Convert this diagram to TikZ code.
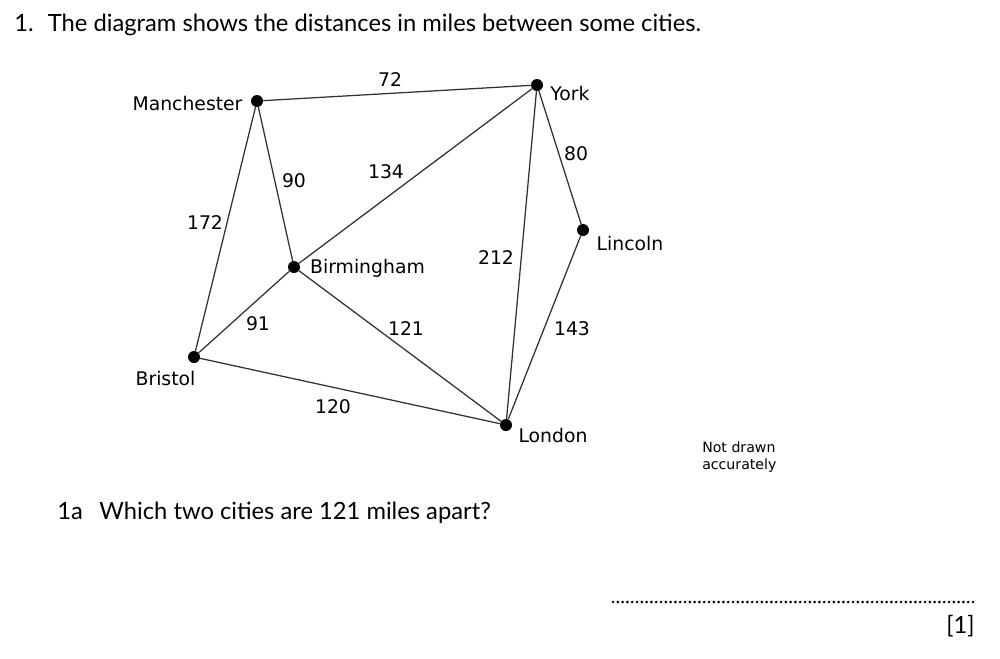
\documentclass[tikz,border=0pt]{standalone}
\usepackage{fontspec}
\setmainfont{Lato}
\newfontfamily\lblfont{DejaVu Sans}
\begin{document}
\begin{tikzpicture}[x=0.75pt,y=-0.75pt,
  city/.style={circle,fill=black,inner sep=0pt,minimum size=9pt},
  road/.style={line width=0.95pt,black!80},
  lbl/.style={inner sep=0pt,font=\lblfont\fontsize{14.1}{16}\selectfont},
  dist/.style={inner sep=0pt,font=\lblfont\fontsize{14.1}{16}\selectfont},
  qtext/.style={inner sep=0pt,anchor=west,font=\fontsize{17.8}{20}\selectfont}]
\useasboundingbox (0,0) rectangle (1000,658);
% title
\node[qtext] (title) at (14,25) {1.\hspace{0.6em}The diagram shows the distances in miles between some cities.};
% cities
\node[city] (man) at (257,101) {};
\node[city] (yor) at (537,85) {};
\node[city] (lin) at (583,230) {};
\node[city] (bir) at (294,267) {};
\node[city] (bri) at (194,357) {};
\node[city] (lon) at (506,425) {};
% roads
\draw[road] (man) -- (yor);
\draw[road] (man) -- (bir);
\draw[road] (man) -- (bri);
\draw[road] (yor) -- (bir);
\draw[road] (yor) -- (lin);
\draw[road] (yor) -- (lon);
\draw[road] (lin) -- (lon);
\draw[road] (bir) -- (bri);
\draw[road] (bir) -- (lon);
\draw[road] (bri) -- (lon);
% city names
\node[lbl] (tman) at (187.5,103) {Manchester};
\node[lbl] (tyor) at (570,93) {York};
\node[lbl] (tlin) at (630,243) {Lincoln};
\node[lbl] (tbir) at (367.5,268) {Birmingham};
\node[lbl] (tbri) at (165.5,378) {Bristol};
\node[lbl] (tlon) at (553,435) {London};
% distances
\node[dist] (d72) at (390,80) {72};
\node[dist] (d90) at (294,181) {90};
\node[dist] (d134) at (386,172) {134};
\node[dist] (d172) at (205,223) {172};
\node[dist] (d212) at (496,258) {212};
\node[dist] (d80) at (576,154) {80};
\node[dist] (d91) at (258,324) {91};
\node[dist] (d121) at (406,329) {121};
\node[dist] (d143) at (572,329) {143};
\node[dist] (d120) at (333,407) {120};
% note
\node[inner sep=0pt,anchor=north west,align=left,font=\lblfont\fontsize{10.6}{12.75}\selectfont] (note) at (702,441) {Not drawn\\accurately};
% question
\node[qtext] (q1a) at (57,513) {1a\hspace{0.7em}Which two cities are 121 miles apart?};
\coordinate (ansL) at (613,602);
\coordinate (ansR) at (975,602);
\draw[line width=2.2pt,line cap=round,dash pattern=on 0pt off 3.6pt,black] (ansL) -- (ansR);
\node[inner sep=0pt,anchor=east,font=\fontsize{17.8}{20}\selectfont] (mark) at (975,626) {[1]};
\end{tikzpicture}
\end{document}
